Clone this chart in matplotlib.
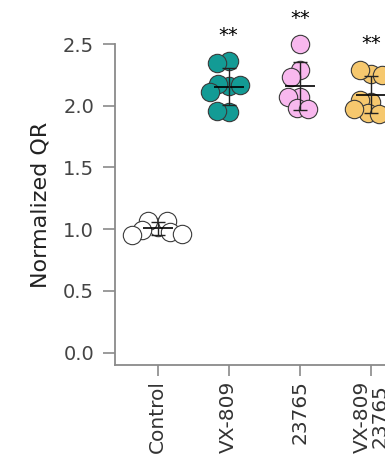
import numpy as np
import matplotlib
matplotlib.use("Agg")
import matplotlib.pyplot as plt

# data
groups = ["Control", "VX-809", "23765", "VX-809\n23765"]
control = [1.02, 1.07, 1.07, 0.99, 0.98, 0.96, 0.95]
vx809 = [2.36, 2.35, 2.16, 2.18, 2.17, 2.11, 1.95, 1.96]
c23765 = [2.50, 2.29, 2.23, 2.07, 2.07, 1.98, 1.97]
combo = [2.26, 2.29, 2.25, 2.03, 2.05, 1.94, 1.93, 1.97]
stars = ["", "**", "**", "**"]

colors = ["white", "#139b95", "#f8b8ee", "#f6c86e"]
values = [control, vx809, c23765, combo]

W, H = 385, 468
fig = plt.figure(figsize=(W / 100, H / 100), dpi=100)
# axes goes past the right edge, like the cropped original
ax = fig.add_axes([115 / W, 103 / H, 327 / W, 321 / H])
ax.set_xlim(-0.6, 4.0)
ax.set_ylim(-0.1, 2.5)

gray = "#8a8a8a"
for s in ["top", "right"]:
    ax.spines[s].set_visible(False)
ax.spines["left"].set_color(gray)
ax.spines["bottom"].set_color(gray)
ax.spines["left"].set_linewidth(1.3)
ax.spines["bottom"].set_linewidth(1.3)

ax.set_yticks([0.0, 0.5, 1.0, 1.5, 2.0, 2.5])
ax.set_yticklabels(["0.0", "0.5", "1.0", "1.5", "2.0", "2.5"])
ax.set_xticks(range(len(groups)))
ax.set_xticklabels(groups, rotation=90, linespacing=0.9)
ax.tick_params(axis="y", length=8.5, width=1.2, color=gray, labelsize=14,
               labelcolor="#444444", pad=6.5)
ax.tick_params(axis="x", length=8, width=1.2, color=gray, labelsize=14.5,
               labelcolor="#333333", pad=3)
ax.set_ylabel("Normalized QR", fontsize=16, color="#222222", labelpad=9)


# simple beeswarm in pixel space so circles spread sideways
def swarm(xc, ys, d):
    placed = []
    out = [0.0] * len(ys)
    for i in range(len(ys)):
        y = ys[i]
        cands = [xc]
        for px, py in placed:
            dy = y - py
            if abs(dy) < d:
                dx = np.sqrt(d * d - dy * dy)
                cands += [px - dx, px + dx]
        cands.sort(key=lambda c: abs(c - xc))
        for c in cands:
            if all((c - px) ** 2 + (y - py) ** 2 >= d * d - 1e-6 for px, py in placed):
                placed.append((c, y))
                out[i] = c
                break
    return out


for i, vals in enumerate(values):
    vals = np.array(vals)
    pts = ax.transData.transform(np.column_stack([np.full(len(vals), i), vals]))
    xs_px = swarm(pts[0, 0], list(pts[:, 1]), 11.5)
    back = ax.transData.inverted().transform(np.column_stack([xs_px, pts[:, 1]]))
    ax.scatter(back[:, 0], vals, s=175, facecolor=colors[i], edgecolor="#3a3a3a",
               linewidth=0.8, zorder=3, clip_on=False)
    m = vals.mean()
    sd = vals.std(ddof=1)
    ax.hlines(m, i - 0.21, i + 0.21, color="black", linewidth=1.2, zorder=5)
    ax.errorbar(i, m, yerr=sd, fmt="none", ecolor="#222222", elinewidth=1.0,
                capsize=5, capthick=1.0, zorder=5)
    if stars[i]:
        ax.text(i, vals.max() + 0.21, stars[i], ha="center", va="center",
                fontsize=14, color="black", clip_on=False)

fig.savefig("out.png", dpi=100)
